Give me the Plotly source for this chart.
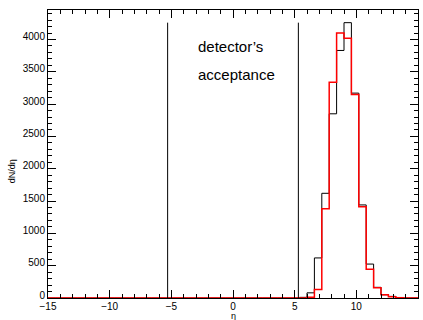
import numpy as np
import plotly.graph_objects as go

# ---- data ----
eta_min, eta_max, n_bins = -15.0, 15.0, 50
# black histogram (bins of width 0.6 from -15 to 15)
black_counts = [0] * 34 + [10, 80, 620, 1620, 2850, 3830, 4260, 3170,
                           1440, 525, 165, 50, 25, 8, 0, 0]
# red histogram
red_counts = [0] * 34 + [0, 10, 130, 1380, 3340, 4100, 4020, 3150,
                         1410, 445, 160, 50, 18, 5, 0, 0]
acceptance_eta = 5.3
label_lines = ["detector’s", "acceptance"]
x_ticks = [-15, -10, -5, 0, 5, 10, 15]
y_ticks = [0, 500, 1000, 1500, 2000, 2500, 3000, 3500, 4000]

edges = np.linspace(eta_min, eta_max, n_bins + 1)


def step_xy(counts):
    xs = list(edges[:-1]) + [edges[-1]]
    ys = list(counts) + [counts[-1]]
    return xs, ys


fig = go.Figure()
bx, by = step_xy(black_counts)
fig.add_trace(go.Scatter(x=bx, y=by, mode="lines", line_shape="hv",
                         line=dict(color="black", width=1), showlegend=False))
rx, ry = step_xy(red_counts)
fig.add_trace(go.Scatter(x=rx, y=ry, mode="lines", line_shape="hv",
                         line=dict(color="#ff0000", width=1.5), showlegend=False))

ymax_line = max(black_counts)
for s in (-acceptance_eta, acceptance_eta):
    fig.add_shape(type="line", x0=s, x1=s, y0=0, y1=ymax_line,
                  xref="x", yref="y", line=dict(color="black", width=1))

font = dict(family="Liberation Sans, Arial, Helvetica, sans-serif", color="black")

fig.add_annotation(x=-3.0, y=3885, xref="x", yref="y", text=label_lines[0],
                   showarrow=False, xanchor="left", yanchor="middle",
                   font=dict(size=15, **font))
fig.add_annotation(x=-3.0, y=3463, xref="x", yref="y", text=label_lines[1],
                   showarrow=False, xanchor="left", yanchor="middle",
                   font=dict(size=15, **font))

# axis titles
fig.add_annotation(x=0.5, y=0, xref="paper", yref="paper", text="η",
                   showarrow=False, xanchor="center", yanchor="middle",
                   yshift=-18, font=dict(size=9, **font))
fig.add_annotation(x=0, y=0.44, xref="paper", yref="paper", text="dN/dη",
                   showarrow=False, xanchor="center", yanchor="middle",
                   xshift=-36, textangle=-90, font=dict(size=9, **font))

axis_common = dict(showline=True, linecolor="black", linewidth=1, mirror="ticks",
                   ticks="inside", tickcolor="black", showgrid=False,
                   zeroline=False, tickfont=dict(size=10, **font))

fig.update_xaxes(range=[eta_min, eta_max], tickvals=x_ticks, ticklen=8,
                 ticklabelstandoff=-1,
                 minor=dict(ticks="inside", dtick=1, ticklen=4, tickcolor="black",
                            showgrid=False),
                 **axis_common)
fig.update_yaxes(range=[0, 1.046 * max(black_counts)], tickvals=y_ticks, ticklen=8,
                 ticklabelshift=-3,
                 minor=dict(ticks="inside", dtick=100, ticklen=4, tickcolor="black",
                            showgrid=False),
                 **axis_common)

fig.update_layout(width=423, height=320,
                  margin=dict(l=48, r=5, t=10, b=22),
                  plot_bgcolor="white", paper_bgcolor="white",
                  font=font)

fig.write_html("out.html")
